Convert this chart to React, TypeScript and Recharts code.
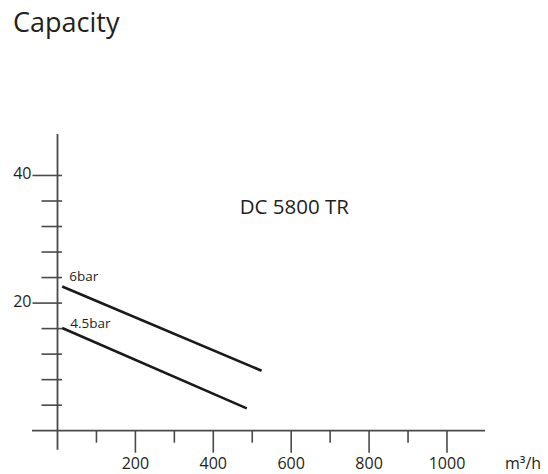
import { Label, Line, LineChart, ReferenceDot, ReferenceLine, XAxis, YAxis } from "recharts";

// capacity curves (flow in m³/h, head on the left scale)
const seriesNames = ["6bar", "4.5bar"];
const flow6bar = [12, 524];
const head6bar = [22.6, 9.4];
const flow45bar = [12, 486];
const head45bar = [16.1, 3.5];

const flowTicks = [100, 200, 300, 400, 500, 600, 700, 800, 900, 1000];
const flowLabels = [200, 400, 600, 800, 1000];
const headTicks = [4, 8, 12, 16, 20, 24, 28, 32, 36, 40];
const headLabels = [20, 40];

const modelName = "DC 5800 TR";
const modelAt = { q: 608, h: 34 };

const FONT = "'Open Sans', sans-serif";
const INK = "#231f20";
const AXIS = "#4a4a4a";

const curves = [
  { name: seriesNames[0], data: flow6bar.map((q, i) => ({ q, h: head6bar[i] })), dx: 7, dy: -5 },
  { name: seriesNames[1], data: flow45bar.map((q, i) => ({ q, h: head45bar[i] })), dx: 8, dy: 0 },
];

function FlowTick({ x, y, payload }: any) {
  const big = flowLabels.includes(payload.value);
  return (
    <g>
      <line x1={x} x2={x} y1={y} y2={y + (big ? 22 : 12)} stroke={AXIS} strokeWidth={1.6} />
      {big && (
        <text x={x} y={y + 38} textAnchor="middle" fontFamily={FONT} fontSize={16} fill={INK}>
          {payload.value}
        </text>
      )}
    </g>
  );
}

function HeadTick({ x, y, payload }: any) {
  const big = headLabels.includes(payload.value);
  return (
    <g>
      <line x1={x - (big ? 25 : 16)} x2={x + 4.5} y1={y} y2={y} stroke={AXIS} strokeWidth={1.6} />
      {big && (
        <text x={x - 26} y={y + 4} textAnchor="end" fontFamily={FONT} fontSize={16} fill={INK}>
          {payload.value}
        </text>
      )}
    </g>
  );
}

export default function App() {
  return (
    <div style={{ position: "relative", width: 548, height: 474 }}>
      <style>{"body{margin:0}"}</style>
      <LineChart width={548} height={474} margin={{ top: 134, right: 63, bottom: 0, left: 0 }}>
        <XAxis
          dataKey="q"
          type="number"
          domain={[0, 1097.6]}
          ticks={flowTicks}
          axisLine={false}
          tickLine={false}
          tickSize={0}
          tickMargin={0}
          height={43.3}
          tick={<FlowTick />}
          allowDataOverflow
        >
          <Label
            content={({ viewBox }: any) => (
              <text x={viewBox.x + viewBox.width + 20} y={viewBox.y + 38} fontFamily={FONT} fontSize={16} fill={INK}>
                m³/h
              </text>
            )}
          />
        </XAxis>
        <YAxis
          type="number"
          domain={[0, 46.5]}
          ticks={headTicks}
          axisLine={false}
          tickLine={false}
          tickSize={0}
          tickMargin={0}
          width={57.5}
          tick={<HeadTick />}
          allowDataOverflow
        />
        <ReferenceLine
          segment={[{ x: -65.5, y: 0 }, { x: 1097.6, y: 0 }]}
          stroke={AXIS}
          strokeWidth={1.8}
          ifOverflow="visible"
        />
        <ReferenceLine
          segment={[{ x: 0, y: -3 }, { x: 0, y: 46.5 }]}
          stroke={AXIS}
          strokeWidth={1.8}
          ifOverflow="visible"
        />
        {curves.map((c) => (
          <Line
            key={c.name}
            data={c.data}
            dataKey="h"
            name={c.name}
            stroke="#1a1a1a"
            strokeWidth={2.6}
            dot={false}
            isAnimationActive={false}
            label={(p: any) =>
              p.index === 0 ? (
                <text key={c.name} x={p.x + c.dx} y={p.y + c.dy} fontFamily={FONT} fontSize={13.5} fill={INK}>
                  {c.name}
                </text>
              ) : (
                <g key={c.name + p.index} />
              )
            }
          />
        ))}
        <ReferenceDot x={modelAt.q} y={modelAt.h} r={0} stroke="none" fill="none">
          <Label
            content={({ viewBox }: any) => (
              <text
                x={viewBox.x + viewBox.width / 2}
                y={viewBox.y + viewBox.height / 2}
                textAnchor="middle"
                fontFamily={FONT}
                fontSize={20.5}
                fill={INK}
              >
                {modelName}
              </text>
            )}
          />
        </ReferenceDot>
      </LineChart>
      <svg width={548} height={60} style={{ position: "absolute", left: 0, top: 0, pointerEvents: "none" }}>
        <text x={13} y={32} fontFamily={FONT} fontSize={27} fill={INK}>
          Capacity
        </text>
      </svg>
    </div>
  );
}
